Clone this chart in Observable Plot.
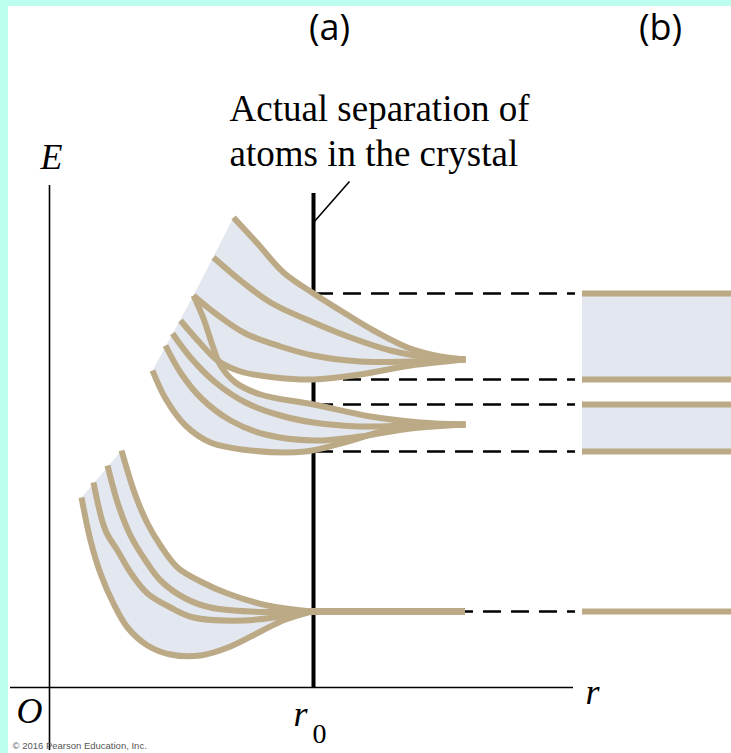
<!DOCTYPE html>
<html><head><meta charset="utf-8">
<script src="https://cdn.jsdelivr.net/npm/d3@7"></script>
<script src="https://cdn.jsdelivr.net/npm/@observablehq/plot@0.6"></script>
<style>
html,body{margin:0;padding:0;background:#bcffee;width:731px;height:753px;overflow:hidden;}
#frame{position:absolute;left:8px;top:6px;width:723px;height:747px;background:#fff;}
#chart{position:absolute;left:0;top:0;}
</style></head><body><div id="frame"></div><div id="chart"></div>
<script>
// Arbitrary units: r = separation measured from O (r0 = 264), E = energy above the r axis.
const R0 = 264;
const rMax = 524, eMax = 502, eMin = -63, rMin = -39;   // axis extents
const bandEnd = 682, bandStart = 533, dashEnd = 526, tipR = 416;
// Energy levels at r = r0 (edges of the allowed bands, and the deep level)
const levelsA = [394, 308, 283, 236, 76];
const bandsB = [[394, 308], [283, 236]];
const deepLevel = 76;

// Upper band curves
const U1r = [184, 208, 234, 264, 291, 324, 358, 391, 416];
const U1E = [470, 444, 415, 394, 377, 357, 340, 331, 328];
const U2r = [164, 191, 221, 264, 301, 341, 381, 416];
const U2E = [430, 407, 385, 365, 350, 337, 330, 328];
const U3r = [144, 166, 196, 231, 264, 311, 361, 416];
const U3E = [392, 374, 354, 341, 332, 326, 326, 328];
const U4r = [131, 151, 168, 191, 226, 264, 311, 361, 416];
const U4E = [367, 344, 327, 316, 310, 308, 313, 322, 328];
// Lower band curves
const L1r = [144, 154, 163, 171, 186, 211, 264, 321, 371, 416];
const L1E = [392, 369, 342, 322, 305, 293, 283, 271, 265, 263];
const L2r = [123, 141, 166, 196, 231, 264, 311, 361, 416];
const L2E = [354, 330, 305, 285, 272, 265, 261, 262, 263];
const L3r = [116, 131, 151, 181, 216, 264, 311, 361, 416];
const L3E = [342, 315, 290, 267, 253, 247, 251, 259, 263];
const L4r = [103, 116, 136, 161, 201, 256, 291, 341, 381, 416];
const L4E = [317, 289, 262, 245, 237, 236, 244, 258, 262, 263];
// Deep level curves
const B1r = [72, 86, 98, 111, 128, 151, 178, 218, 262];
const B1E = [237, 192, 164, 142, 120, 106, 94, 82, 76];
const B2r = [58, 69, 81, 96, 111, 136, 161, 201, 262];
const B2E = [222, 182, 152, 127, 107, 89, 80, 76, 76];
const B3r = [44, 56, 68, 81, 98, 121, 144, 194, 231, 262];
const B3E = [205, 157, 137, 115, 94, 80, 70, 67, 71, 76];
const B4r = [32, 41, 51, 64, 78, 98, 121, 151, 181, 211, 236, 262];
const B4E = [190, 147, 114, 84, 60, 42, 33, 32, 41, 56, 68, 76];

const pts = (name, rs, es) => rs.map((r, i) => ({curve: name, r, E: es[i]}));
const curves = [
  pts("U1", U1r, U1E), pts("U2", U2r, U2E), pts("U3", U3r, U3E), pts("U4", U4r, U4E),
  pts("L1", L1r, L1E), pts("L2", L2r, L2E), pts("L3", L3r, L3E), pts("L4", L4r, L4E),
  pts("B1", B1r, B1E), pts("B2", B2r, B2E), pts("B3", B3r, B3E), pts("B4", B4r, B4E)
];
const byName = Object.fromEntries(curves.map(c => [c[0].curve, c]));
const poly = (top, bot, id) => top.concat(bot.slice().reverse().slice(1)).map(d => ({...d, curve: id}));
const fills = [
  ...poly(byName.U1, byName.U4, "U"),
  ...poly(byName.L1, byName.L4, "L"),
  ...poly(byName.B1, byName.B4, "B")
];
const lineData = curves.flat();

const TAN = "#bcaa86", LIGHT = "#e3e7ef";
const serif = "'Liberation Serif', 'DejaVu Serif', serif";

const chart = Plot.plot({
  width: 731, height: 753, margin: 0,
  x: {domain: [-49, 682], axis: null},
  y: {domain: [-66, 687], axis: null},
  style: {background: "transparent", overflow: "visible"},
  marks: [
    // axes
    Plot.ruleX([0], {y1: eMin, y2: eMax, stroke: "#000", strokeWidth: 1.6}),
    Plot.ruleY([0], {x1: rMin, x2: rMax, stroke: "#000", strokeWidth: 1.6}),
    // r0 line
    Plot.ruleX([R0], {y1: 0, y2: 494, stroke: "#000", strokeWidth: 4}),
    Plot.link([{a: R0, b: 465, c: 300, d: 506}], {x1: "a", y1: "b", x2: "c", y2: "d", stroke: "#000", strokeWidth: 1.6}),
    // dashed level lines
    Plot.ruleY(levelsA, {y: d => d, x1: R0 + 2, x2: dashEnd, stroke: "#000", strokeWidth: 2.3, strokeDasharray: "18,10"}),
    // fills of the curve bundles
    Plot.line(fills, {x: "r", y: "E", z: "curve", fill: LIGHT, stroke: "none", curve: "catmull-rom"}),
    // bands in (b)
    Plot.rect(bandsB, {x1: bandStart, x2: bandEnd, y1: d => d[0], y2: d => d[1], fill: LIGHT}),
    // curves
    Plot.line(lineData, {x: "r", y: "E", z: "curve", stroke: TAN, strokeWidth: 6, curve: "catmull-rom", strokeLinecap: "butt"}),
    Plot.ruleY([deepLevel], {x1: 258, x2: tipR, stroke: TAN, strokeWidth: 7}),
    Plot.ruleY(levelsA, {y: d => d, x1: bandStart, x2: bandEnd, stroke: TAN, strokeWidth: 6}),
    // texts
    Plot.text(["(a)"], {x: 280, y: 659, text: d => d, fontSize: 36, fontFamily: "'Open Sans', sans-serif", lineAnchor: "middle"}),
    Plot.text(["(b)"], {x: 611, y: 659, text: d => d, fontSize: 36, fontFamily: "'Open Sans', sans-serif", lineAnchor: "middle"}),
    Plot.text(["Actual separation of"], {x: 180, y: 578, text: d => d, fontSize: 37, fontFamily: serif, textAnchor: "start", lineAnchor: "middle"}),
    Plot.text(["atoms in the crystal"], {x: 180, y: 533, text: d => d, fontSize: 37, fontFamily: serif, textAnchor: "start", lineAnchor: "middle"}),
    Plot.text(["E"], {x: -9, y: 530, text: d => d, fontSize: 36, fontFamily: serif, fontStyle: "italic", textAnchor: "start", lineAnchor: "middle"}),
    Plot.text(["O"], {x: -33, y: -24, text: d => d, fontSize: 36, fontFamily: serif, fontStyle: "italic", textAnchor: "start", lineAnchor: "middle"}),
    Plot.text(["r"], {x: 536, y: -5, text: d => d, fontSize: 36, fontFamily: serif, fontStyle: "italic", textAnchor: "start", lineAnchor: "middle"}),
    Plot.text(["r"], {x: 244, y: -27, text: d => d, fontSize: 36, fontFamily: serif, fontStyle: "italic", textAnchor: "start", lineAnchor: "middle"}),
    Plot.text(["0"], {x: 263, y: -47, text: d => d, fontSize: 28, fontFamily: serif, textAnchor: "start", lineAnchor: "middle"}),
    Plot.text(["© 2016 Pearson Education, Inc."], {x: -37, y: -58, text: d => d, fontSize: 9.5, fontFamily: "'Liberation Sans', sans-serif", fill: "#555", textAnchor: "start", lineAnchor: "middle"})
  ]
});
document.getElementById("chart").appendChild(chart);
</script>
</body></html>
